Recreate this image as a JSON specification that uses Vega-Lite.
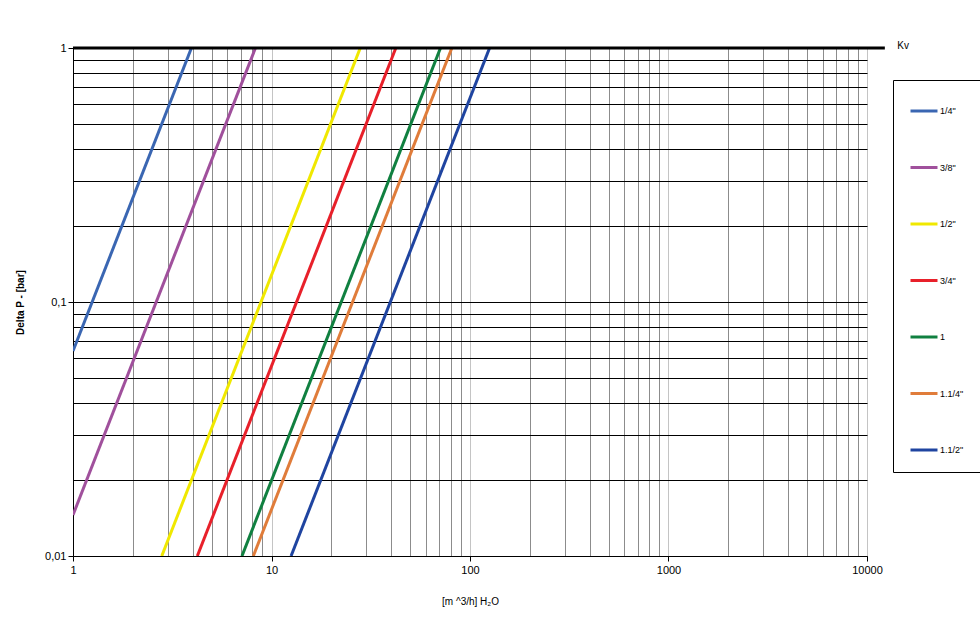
{
  "$schema": "https://vega.github.io/schema/vega-lite/v6.json",
  "width": 794,
  "height": 508,
  "autosize": {"type": "none"},
  "padding": {"left": 73, "top": 48, "right": 113, "bottom": 76},
  "background": "white",
  "config": {"view": {"stroke": null}, "font": "Liberation Sans"},
  "datasets": {
    "curves": [
      {"size": "1/4\"", "Q": 1, "dP": 0.0641},
      {"size": "1/4\"", "Q": 3.95, "dP": 1},
      {"size": "3/8\"", "Q": 1, "dP": 0.0145},
      {"size": "3/8\"", "Q": 8.3, "dP": 1},
      {"size": "1/2\"", "Q": 2.8, "dP": 0.01},
      {"size": "1/2\"", "Q": 28, "dP": 1},
      {"size": "3/4\"", "Q": 4.23, "dP": 0.01},
      {"size": "3/4\"", "Q": 42.3, "dP": 1},
      {"size": "1", "Q": 7.1, "dP": 0.01},
      {"size": "1", "Q": 71, "dP": 1},
      {"size": "1.1/4\"", "Q": 8.1, "dP": 0.01},
      {"size": "1.1/4\"", "Q": 81, "dP": 1},
      {"size": "1.1/2\"", "Q": 12.55, "dP": 0.01},
      {"size": "1.1/2\"", "Q": 125.5, "dP": 1}
    ],
    "topline": [{"x": 1, "x2": 12300, "y": 1}],
    "kv": [{"x": 14220, "y": 1, "label": "Kv"}]
  },
  "layer": [
    {
      "data": {"name": "curves"},
      "mark": {"type": "line", "strokeWidth": 3, "clip": true},
      "encoding": {
        "x": {
          "field": "Q",
          "type": "quantitative",
          "scale": {"type": "log", "domain": [1, 10000]},
          "axis": {
            "values": [1,2,3,4,5,6,7,8,9,10,20,30,40,50,60,70,80,90,100,200,300,400,500,600,700,800,900,1000,2000,3000,4000,5000,6000,7000,8000,9000,10000],
            "title": "[m ^3/h] H₂O",
            "titleFontWeight": "normal",
            "titleFontSize": 10,
            "titleColor": "black",
            "titlePadding": 21,
            "labelFontSize": 11,
            "labelColor": "black",
            "labelPadding": 3,
            "labelOverlap": false,
            "labelFlush": false,
            "labelExpr": "abs(log(datum.value)/LN10 - round(log(datum.value)/LN10)) < 0.0001 ? format(datum.value, 'd') : ''",
            "tickColor": {"condition": {"test": "abs(log(datum.value)/LN10 - round(log(datum.value)/LN10)) < 0.0001", "value": "black"}, "value": "transparent"},
            "tickSize": 5,
            "domainColor": "black",
            "grid": true,
            "gridColor": {"condition": {"test": "abs(log(datum.value)/LN10 - round(log(datum.value)/LN10)) < 0.0001", "value": "#c4c4c4"}, "value": "#8c8c8c"},
            "gridOpacity": 1,
            "gridWidth": 1
          }
        },
        "y": {
          "field": "dP",
          "type": "quantitative",
          "scale": {"type": "log", "domain": [0.01, 1]},
          "axis": {
            "values": [0.01,0.02,0.03,0.04,0.05,0.06,0.07,0.08,0.09,0.1,0.2,0.3,0.4,0.5,0.6,0.7,0.8,0.9,1],
            "title": "Delta P - [bar]",
            "titleFontWeight": "bold",
            "titleFontSize": 10,
            "titleColor": "black",
            "titlePadding": 19,
            "labelFontSize": 11,
            "labelColor": "black",
            "labelPadding": 2,
            "labelOverlap": false,
            "labelFlush": false,
            "labelExpr": "abs(log(datum.value)/LN10 - round(log(datum.value)/LN10)) < 0.0001 ? replace(format(datum.value, '~g'), '.', ',') : ''",
            "tickColor": {"condition": {"test": "abs(log(datum.value)/LN10 - round(log(datum.value)/LN10)) < 0.0001", "value": "black"}, "value": "transparent"},
            "tickSize": 5,
            "domainColor": "black",
            "grid": true,
            "gridColor": "black",
            "gridOpacity": 1,
            "gridWidth": 1
          }
        },
        "color": {
          "field": "size",
          "type": "nominal",
          "scale": {
            "domain": ["1/4\"", "3/8\"", "1/2\"", "3/4\"", "1", "1.1/4\"", "1.1/2\""],
            "range": ["#3a66b2", "#a0509c", "#f0e800", "#e8202a", "#108040", "#e07c3a", "#1f44a0"]
          },
          "legend": {
            "orient": "none",
            "legendX": 820,
            "legendY": 32,
            "title": null,
            "strokeColor": "black",
            "padding": 16,
            "symbolType": "stroke",
            "symbolSize": 729,
            "symbolStrokeWidth": 3,
            "rowPadding": 35.5,
            "labelFontSize": 9,
            "labelColor": "black",
            "labelOffset": 1
          }
        }
      }
    },
    {
      "data": {"name": "topline"},
      "mark": {"type": "rule", "strokeWidth": 3, "color": "black"},
      "encoding": {
        "x": {"field": "x", "type": "quantitative"},
        "x2": {"field": "x2"},
        "y": {"field": "y", "type": "quantitative"}
      }
    },
    {
      "data": {"name": "kv"},
      "mark": {"type": "text", "align": "left", "baseline": "middle", "fontSize": 10, "dy": -2, "color": "black"},
      "encoding": {
        "x": {"field": "x", "type": "quantitative"},
        "y": {"field": "y", "type": "quantitative"},
        "text": {"field": "label"}
      }
    }
  ]
}
